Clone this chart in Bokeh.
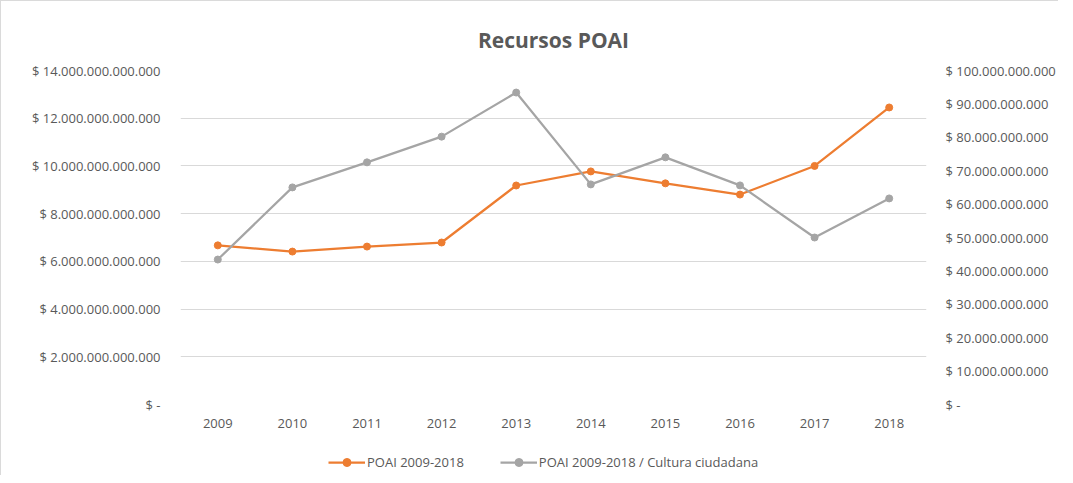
from bokeh.plotting import figure
from bokeh.layouts import column
from bokeh.models import (Range1d, LinearAxis, FixedTicker, CustomJSTickFormatter,
                          Legend, LegendItem, Title, FactorRange)
from bokeh.embed import file_html
from bokeh.resources import INLINE

years = ["2009", "2010", "2011", "2012", "2013", "2014", "2015", "2016", "2017", "2018"]
poai = [6.67e12, 6.41e12, 6.62e12, 6.79e12, 9.18e12, 9.77e12, 9.27e12, 8.80e12, 10.0e12, 12.45e12]
cultura = [43.4e9, 65.0e9, 72.5e9, 80.2e9, 93.4e9, 65.9e9, 74.0e9, 65.6e9, 50.0e9, 61.7e9]
left_ticks = [0, 2e12, 4e12, 6e12, 8e12, 10e12, 12e12, 14e12]
right_ticks = [0, 10e9, 20e9, 30e9, 40e9, 50e9, 60e9, 70e9, 80e9, 90e9, 100e9]
series_names = ["POAI 2009-2018", "POAI 2009-2018 / Cultura ciudadana"]

ORANGE = "#ED7D31"
GREY = "#A5A5A5"
TEXT = "#595959"
FONT = "Open Sans"
FS = "13px"

p = figure(width=1057, height=439, x_range=FactorRange(*years), y_range=Range1d(0, 14e12),
           output_backend="svg", toolbar_location=None,
           min_border_left=179, min_border_right=124, min_border_top=69, min_border_bottom=36)
p.outline_line_color = None
p.extra_y_ranges = {"right": Range1d(0, 100e9)}

fmt = CustomJSTickFormatter(code="""
if (tick == 0) return "$ -";
return "$ " + Math.round(tick).toString().replace(/\\B(?=(\\d{3})+(?!\\d))/g, ".");
""")

p.yaxis[0].ticker = FixedTicker(ticks=left_ticks)
ra = LinearAxis(y_range_name="right", ticker=FixedTicker(ticks=right_ticks))
p.add_layout(ra, "right")

for ax in [p.yaxis[0], ra, p.xaxis[0]]:
    ax.axis_line_color = None
    ax.major_tick_line_color = None
    ax.minor_tick_line_color = None
    ax.major_tick_out = 0
    ax.major_tick_in = 0
    ax.minor_tick_out = 0
    ax.major_label_text_color = TEXT
    ax.major_label_text_font = FONT
    ax.major_label_text_font_size = FS
p.yaxis[0].formatter = fmt
ra.formatter = fmt
p.yaxis[0].major_label_standoff = 20
ra.major_label_standoff = 19
p.xaxis[0].major_label_standoff = 14

p.xgrid.grid_line_color = None
p.ygrid.grid_line_color = "#D9D9D9"
p.ygrid.grid_line_width = 1

p.line(years, poai, line_color=ORANGE, line_width=2.25)
p.scatter(years, poai, size=7, fill_color=ORANGE, line_color=ORANGE)
p.line(years, cultura, line_color=GREY, line_width=2.25, y_range_name="right")
p.scatter(years, cultura, size=7, fill_color=GREY, line_color=GREY, y_range_name="right")

p.title = Title(text="Recursos POAI", align="center", text_color=TEXT, text_font=FONT,
                text_font_size="21px", text_font_style="bold", standoff=33, offset=-9)

# legend strip (its renderers hold the same series, far outside this strip's range)
lg = figure(width=1057, height=35, x_range=FactorRange(*years), y_range=Range1d(0, 1),
            output_backend="svg", toolbar_location=None,
            min_border_left=0, min_border_right=0, min_border_top=0, min_border_bottom=0)
lg.axis.visible = False
lg.grid.grid_line_color = None
lg.outline_line_color = None
a1 = lg.line(years, poai, line_color=ORANGE, line_width=2.25)
b1 = lg.scatter(years, poai, size=7, fill_color=ORANGE, line_color=ORANGE)
a2 = lg.line(years, cultura, line_color=GREY, line_width=2.25)
b2 = lg.scatter(years, cultura, size=7, fill_color=GREY, line_color=GREY)
legend = Legend(items=[LegendItem(label=series_names[0], renderers=[a1, b1]),
                       LegendItem(label=series_names[1], renderers=[a2, b2])],
                orientation="horizontal", location=(148, 3), glyph_width=37,
                label_text_color=TEXT, label_text_font=FONT, label_text_font_size=FS,
                border_line_color=None, background_fill_alpha=0, spacing=36,
                label_standoff=2, padding=4, margin=0)
lg.add_layout(legend, "center")

layout = column(p, lg, spacing=0)
layout.styles = {"border-top": "1px solid #DADADA", "border-left": "1px solid #DADADA"}
open("out.html", "w").write(file_html(layout, INLINE))
